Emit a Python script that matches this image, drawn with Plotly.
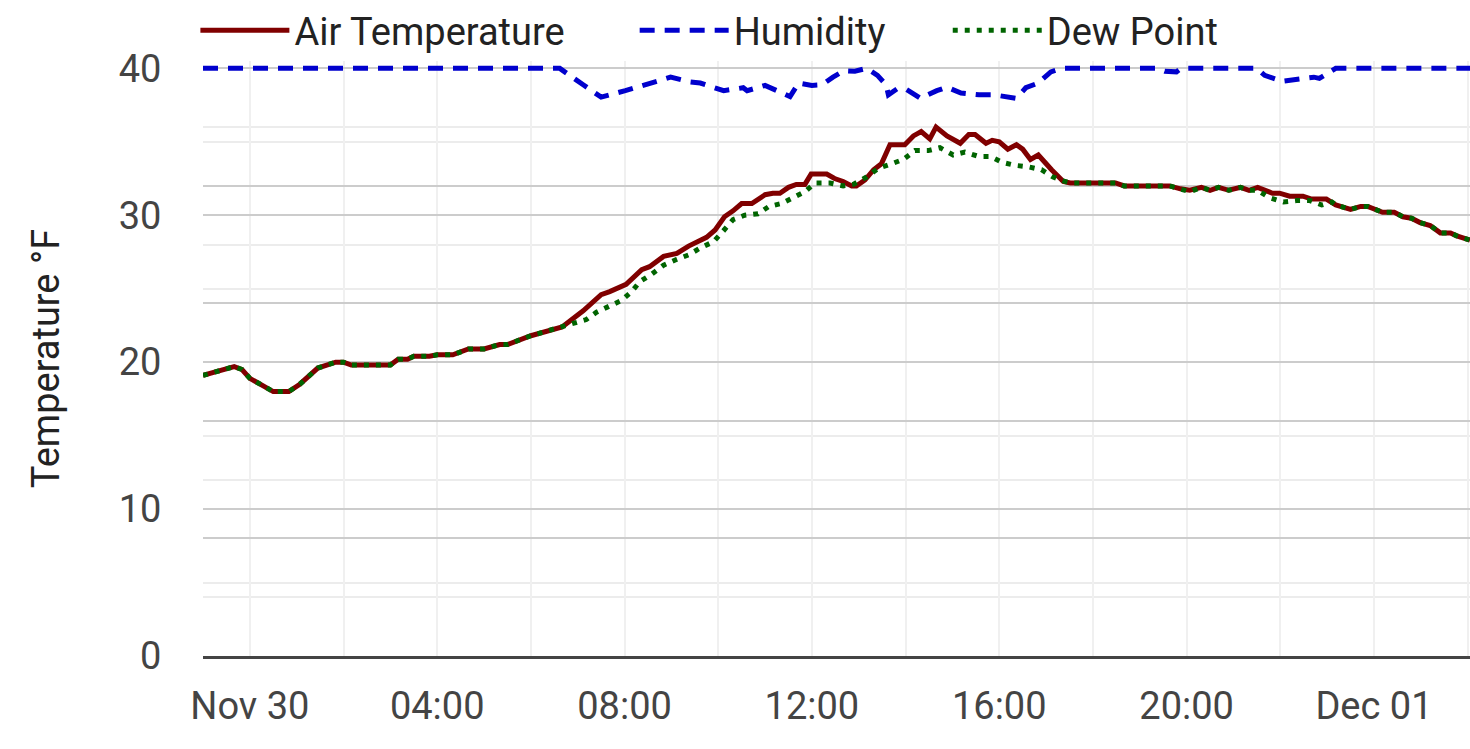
import pandas as pd
import plotly.graph_objects as go

# Air temperature (°F)
temp_times = [
    "2020-11-29 23:00", "2020-11-29 23:40", "2020-11-29 23:50", "2020-11-30 00:00",
    "2020-11-30 00:30", "2020-11-30 00:50", "2020-11-30 01:04", "2020-11-30 01:27",
    "2020-11-30 01:50", "2020-11-30 02:00", "2020-11-30 02:10", "2020-11-30 03:00",
    "2020-11-30 03:10", "2020-11-30 03:22", "2020-11-30 03:30", "2020-11-30 03:50",
    "2020-11-30 04:00", "2020-11-30 04:20", "2020-11-30 04:40", "2020-11-30 05:00",
    "2020-11-30 05:20", "2020-11-30 05:30", "2020-11-30 06:00", "2020-11-30 06:40",
    "2020-11-30 07:07", "2020-11-30 07:20", "2020-11-30 07:30", "2020-11-30 07:41",
    "2020-11-30 07:54", "2020-11-30 08:02", "2020-11-30 08:22", "2020-11-30 08:32",
    "2020-11-30 08:50", "2020-11-30 09:07", "2020-11-30 09:22", "2020-11-30 09:30",
    "2020-11-30 09:45", "2020-11-30 09:56", "2020-11-30 10:08", "2020-11-30 10:19",
    "2020-11-30 10:30", "2020-11-30 10:43", "2020-11-30 10:49", "2020-11-30 11:00",
    "2020-11-30 11:10", "2020-11-30 11:19", "2020-11-30 11:30", "2020-11-30 11:40",
    "2020-11-30 11:51", "2020-11-30 11:59", "2020-11-30 12:19", "2020-11-30 12:29",
    "2020-11-30 12:40", "2020-11-30 12:51", "2020-11-30 12:57", "2020-11-30 13:08",
    "2020-11-30 13:19", "2020-11-30 13:29", "2020-11-30 13:40", "2020-11-30 13:59",
    "2020-11-30 14:10", "2020-11-30 14:20", "2020-11-30 14:31", "2020-11-30 14:39",
    "2020-11-30 14:53", "2020-11-30 15:02", "2020-11-30 15:10", "2020-11-30 15:21",
    "2020-11-30 15:29", "2020-11-30 15:43", "2020-11-30 15:51", "2020-11-30 16:00",
    "2020-11-30 16:11", "2020-11-30 16:22", "2020-11-30 16:30", "2020-11-30 16:40",
    "2020-11-30 16:50", "2020-11-30 17:07", "2020-11-30 17:22", "2020-11-30 17:31",
    "2020-11-30 18:29", "2020-11-30 18:40", "2020-11-30 19:38", "2020-11-30 19:52",
    "2020-11-30 20:04", "2020-11-30 20:19", "2020-11-30 20:30", "2020-11-30 20:41",
    "2020-11-30 20:54", "2020-11-30 21:09", "2020-11-30 21:20", "2020-11-30 21:31",
    "2020-11-30 21:50", "2020-11-30 21:59", "2020-11-30 22:12", "2020-11-30 22:29",
    "2020-11-30 22:40", "2020-11-30 22:59", "2020-11-30 23:11", "2020-11-30 23:30",
    "2020-11-30 23:43", "2020-11-30 23:52", "2020-12-01 00:11", "2020-12-01 00:26",
    "2020-12-01 00:37", "2020-12-01 00:48", "2020-12-01 00:59", "2020-12-01 01:12",
    "2020-12-01 01:25", "2020-12-01 01:38", "2020-12-01 01:46", "2020-12-01 02:03",
]
temp_vals = [
    19.1, 19.7, 19.5, 18.9, 18.0, 18.0, 18.5, 19.6,
    20.0, 20.0, 19.8, 19.8, 20.2, 20.2, 20.4, 20.4,
    20.5, 20.5, 20.9, 20.9, 21.2, 21.2, 21.8, 22.4,
    23.5, 24.1, 24.6, 24.8, 25.1, 25.3, 26.3, 26.5,
    27.2, 27.4, 27.9, 28.1, 28.5, 29.0, 29.9, 30.3,
    30.8, 30.8, 31.0, 31.4, 31.5, 31.5, 31.9, 32.1,
    32.1, 32.8, 32.8, 32.5, 32.3, 32.0, 32.0, 32.4,
    33.1, 33.5, 34.8, 34.8, 35.4, 35.7, 35.2, 36.0,
    35.4, 35.1, 34.9, 35.5, 35.5, 34.9, 35.1, 35.0,
    34.5, 34.8, 34.5, 33.8, 34.1, 33.1, 32.3, 32.2,
    32.2, 32.0, 32.0, 31.8, 31.7, 31.9, 31.7, 31.9,
    31.7, 31.9, 31.7, 31.9, 31.5, 31.5, 31.3, 31.3,
    31.1, 31.1, 30.7, 30.4, 30.6, 30.6, 30.2, 30.2,
    29.9, 29.8, 29.5, 29.3, 28.8, 28.8, 28.6, 28.3,
]

# Dew point (°F)
dew_times = [
    "2020-11-29 23:00", "2020-11-29 23:40", "2020-11-29 23:50", "2020-11-30 00:00",
    "2020-11-30 00:30", "2020-11-30 00:50", "2020-11-30 01:04", "2020-11-30 01:27",
    "2020-11-30 01:50", "2020-11-30 02:00", "2020-11-30 02:10", "2020-11-30 03:00",
    "2020-11-30 03:10", "2020-11-30 03:22", "2020-11-30 03:30", "2020-11-30 03:50",
    "2020-11-30 04:00", "2020-11-30 04:20", "2020-11-30 04:40", "2020-11-30 05:00",
    "2020-11-30 05:20", "2020-11-30 05:30", "2020-11-30 06:00", "2020-11-30 06:40",
    "2020-11-30 06:54", "2020-11-30 07:11", "2020-11-30 07:24", "2020-11-30 07:41",
    "2020-11-30 07:56", "2020-11-30 08:09", "2020-11-30 08:20", "2020-11-30 08:35",
    "2020-11-30 08:50", "2020-11-30 09:07", "2020-11-30 09:22", "2020-11-30 09:38",
    "2020-11-30 09:54", "2020-11-30 10:06", "2020-11-30 10:19", "2020-11-30 10:34",
    "2020-11-30 10:51", "2020-11-30 11:05", "2020-11-30 11:21", "2020-11-30 11:36",
    "2020-11-30 11:51", "2020-11-30 12:04", "2020-11-30 12:23", "2020-11-30 12:40",
    "2020-11-30 12:53", "2020-11-30 13:10", "2020-11-30 13:25", "2020-11-30 13:42",
    "2020-11-30 13:57", "2020-11-30 14:12", "2020-11-30 14:29", "2020-11-30 14:44",
    "2020-11-30 15:01", "2020-11-30 15:16", "2020-11-30 15:34", "2020-11-30 15:49",
    "2020-11-30 16:04", "2020-11-30 16:20", "2020-11-30 16:37", "2020-11-30 16:54",
    "2020-11-30 17:09", "2020-11-30 17:24", "2020-11-30 17:31", "2020-11-30 18:29",
    "2020-11-30 18:40", "2020-11-30 19:38", "2020-11-30 19:52", "2020-11-30 20:04",
    "2020-11-30 20:19", "2020-11-30 20:30", "2020-11-30 20:41", "2020-11-30 20:54",
    "2020-11-30 21:09", "2020-11-30 21:20", "2020-11-30 21:31", "2020-11-30 21:46",
    "2020-11-30 22:04", "2020-11-30 22:21", "2020-11-30 22:38", "2020-11-30 22:53",
    "2020-11-30 23:06", "2020-11-30 23:11", "2020-11-30 23:30", "2020-11-30 23:43",
    "2020-11-30 23:52", "2020-12-01 00:11", "2020-12-01 00:26", "2020-12-01 00:37",
    "2020-12-01 00:48", "2020-12-01 00:59", "2020-12-01 01:12", "2020-12-01 01:25",
    "2020-12-01 01:38", "2020-12-01 01:46", "2020-12-01 02:03",
]
dew_vals = [
    19.1, 19.7, 19.5, 18.9, 18.0, 18.0, 18.5, 19.6,
    20.0, 20.0, 19.8, 19.8, 20.2, 20.2, 20.4, 20.4,
    20.5, 20.5, 20.9, 20.9, 21.2, 21.2, 21.8, 22.4,
    22.6, 22.9, 23.4, 23.8, 24.2, 24.8, 25.5, 26.0,
    26.6, 27.0, 27.3, 27.8, 28.2, 28.9, 29.7, 30.0,
    30.1, 30.6, 30.8, 31.2, 31.6, 32.2, 32.2, 32.0,
    32.1, 32.6, 33.2, 33.5, 33.8, 34.4, 34.4, 34.6,
    34.1, 34.3, 34.0, 34.0, 33.6, 33.4, 33.3, 33.1,
    32.6, 32.3, 32.2, 32.2, 32.0, 32.0, 31.8, 31.6,
    31.9, 31.7, 31.9, 31.7, 31.9, 31.7, 31.7, 31.2,
    30.9, 31.0, 31.0, 30.7, 30.9, 30.7, 30.4, 30.6,
    30.6, 30.2, 30.2, 29.9, 29.8, 29.5, 29.3, 28.8,
    28.8, 28.6, 28.3,
]

# Relative humidity (%), right-hand axis
hum_times = [
    "2020-11-29 23:00", "2020-11-30 06:37", "2020-11-30 07:07", "2020-11-30 07:30",
    "2020-11-30 08:01", "2020-11-30 08:29", "2020-11-30 08:59", "2020-11-30 09:24",
    "2020-11-30 09:37", "2020-11-30 10:07", "2020-11-30 10:32", "2020-11-30 10:37",
    "2020-11-30 11:00", "2020-11-30 11:32", "2020-11-30 11:43", "2020-11-30 12:00",
    "2020-11-30 12:13", "2020-11-30 12:27", "2020-11-30 12:41", "2020-11-30 12:55",
    "2020-11-30 13:10", "2020-11-30 13:24", "2020-11-30 13:35", "2020-11-30 13:38",
    "2020-11-30 13:49", "2020-11-30 14:01", "2020-11-30 14:19", "2020-11-30 14:40",
    "2020-11-30 14:53", "2020-11-30 15:11", "2020-11-30 15:34", "2020-11-30 15:53",
    "2020-11-30 16:22", "2020-11-30 16:34", "2020-11-30 16:50", "2020-11-30 17:06",
    "2020-11-30 17:20", "2020-11-30 19:22", "2020-11-30 19:32", "2020-11-30 19:47",
    "2020-11-30 19:53", "2020-11-30 21:30", "2020-11-30 21:40", "2020-11-30 22:02",
    "2020-11-30 22:18", "2020-11-30 22:43", "2020-11-30 22:50", "2020-11-30 23:11",
    "2020-12-01 02:03",
]
hum_vals = [
    100, 100, 97.2, 95.1, 96.2, 97.3, 98.5, 97.7,
    97.5, 96.2, 96.7, 96.2, 97.1, 95.2, 97.5, 97.1,
    97.2, 98.5, 99.6, 99.5, 100, 98.8, 97.2, 95.5,
    96.5, 96.4, 94.9, 96.2, 96.8, 95.8, 95.5, 95.5,
    94.9, 96.7, 97.5, 99.4, 100, 100, 99.5, 99.4,
    100, 100, 98.8, 97.8, 98.0, 98.5, 98.3, 100,
    100,
]

# x axis: gridline every 2 h, label every 4 h
grid_times = pd.date_range("2020-11-30 00:00", "2020-12-01 02:00", freq="2h")
tick_labels = ["Nov 30", "", "04:00", "", "08:00", "", "12:00", "",
               "16:00", "", "20:00", "", "Dec 01", ""]

temp_ticks = [0, 10, 20, 30, 40]
temp_minor = [5, 15, 25, 35]
hum_ticks = [0, 20, 40, 60, 80, 100]
hum_minor = [10, 30, 50, 70, 90]

MAJOR_GRID = "#cccccc"
MINOR_GRID = "#ececec"

fig = go.Figure()

fig.add_trace(go.Scatter(
    x=pd.to_datetime(temp_times), y=temp_vals, name="Air Temperature",
    mode="lines", line=dict(color="#800000", width=5), legend="legend",
))
fig.add_trace(go.Scatter(
    x=pd.to_datetime(hum_times), y=hum_vals, name="Humidity", yaxis="y2",
    mode="lines", line=dict(color="#0000cd", width=5, dash="15px,10px"),
    legend="legend2",
))
fig.add_trace(go.Scatter(
    x=pd.to_datetime(dew_times), y=dew_vals, name="Dew Point",
    mode="lines", line=dict(color="#006400", width=5, dash="5px,7px"),
    legend="legend3",
))

legend_style = dict(
    orientation="h", xanchor="left", yanchor="middle", y=1.051,
    font=dict(family="Roboto", size=38, color="#222222"),
    itemwidth=89, bgcolor="rgba(0,0,0,0)",
)

fig.update_layout(
    width=1470, height=749, showlegend=True,
    margin=dict(l=203, r=0, t=60.6, b=93, autoexpand=False),
    paper_bgcolor="white", plot_bgcolor="white",
    font=dict(family="Roboto", color="#444444"),
    legend=dict(legend_style, x=-0.006),
    legend2=dict(legend_style, x=0.3407),
    legend3=dict(legend_style, x=0.5878),
    xaxis=dict(
        range=[pd.Timestamp("2020-11-29 23:00"), pd.Timestamp("2020-12-01 02:03")],
        tickmode="array", tickvals=grid_times, ticktext=tick_labels,
        showgrid=True, gridcolor="#f0f0f0", gridwidth=2,
        showline=True, linecolor="#444444", linewidth=3,
        ticks="outside", ticklen=14, tickcolor="rgba(0,0,0,0)",
        tickfont=dict(family="Roboto", size=38, color="#444444"),
        zeroline=False, automargin=False,
    ),
    yaxis=dict(
        range=[0, 40.5], tickmode="array", tickvals=temp_ticks,
        showgrid=True, gridcolor=MAJOR_GRID, gridwidth=2,
        minor=dict(tickvals=temp_minor, showgrid=True, gridcolor=MINOR_GRID,
                   gridwidth=2),
        ticks="outside", ticklen=33, tickcolor="rgba(0,0,0,0)",
        tickfont=dict(family="Roboto", size=38, color="#444444"),
        title=dict(text="Temperature °F", standoff=47,
                   font=dict(family="Roboto", size=38, color="#222222")),
        zeroline=False, showline=False, automargin=False,
    ),
    yaxis2=dict(
        range=[0, 101.25], overlaying="y", side="right",
        tickmode="array", tickvals=hum_ticks, showticklabels=False,
        showgrid=True, gridcolor=MAJOR_GRID, gridwidth=2,
        minor=dict(tickvals=hum_minor, showgrid=True, gridcolor=MINOR_GRID,
                   gridwidth=2),
        zeroline=False, showline=False, automargin=False,
    ),
)

# drop the default 8px body margin so the figure fills the window exactly
fig.write_html(
    "out.html",
    config={"displayModeBar": False},
    post_script="document.body.style.margin = '0px';",
)
